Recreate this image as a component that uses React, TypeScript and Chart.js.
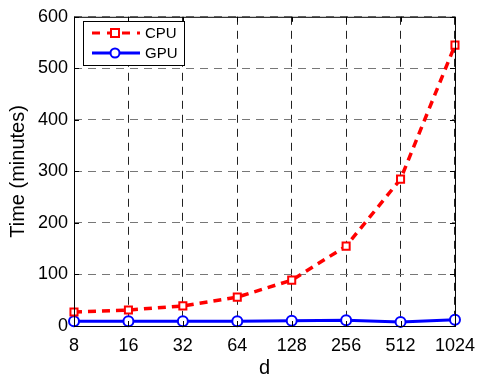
import React, { useEffect, useRef } from "react";
import { Chart, registerables } from "chart.js";

Chart.register(...registerables);

const categories = ["8", "16", "32", "64", "128", "256", "512", "1024"];
const cpuValues = [27, 31, 39, 56, 89, 155, 285, 545];
const gpuValues = [9, 9, 9, 9, 10, 11, 8, 12];
const yTicks = [0, 100, 200, 300, 400, 500, 600];
const seriesNames = ["CPU", "GPU"];

const FONT = "'Liberation Sans', Arial, Helvetica, sans-serif";

const framePlugin = {
  id: "frame",
  afterDraw(chart: any) {
    const { ctx, chartArea: a, scales } = chart;
    ctx.save();
    ctx.strokeStyle = "#000";
    ctx.lineWidth = 1;
    ctx.setLineDash([]);
    ctx.strokeRect(a.left + 0.5, a.top + 0.5, a.right - a.left, a.bottom - a.top);
    const tl = 5;
    ctx.beginPath();
    yTicks.forEach((v) => {
      const y = Math.round(scales.y.getPixelForValue(v)) + 0.5;
      ctx.moveTo(a.left, y);
      ctx.lineTo(a.left + tl, y);
      ctx.moveTo(a.right, y);
      ctx.lineTo(a.right - tl, y);
    });
    categories.forEach((_, i) => {
      const x = Math.round(scales.x.getPixelForValue(i)) + 0.5;
      ctx.moveTo(x, a.bottom);
      ctx.lineTo(x, a.bottom - tl);
      ctx.moveTo(x, a.top);
      ctx.lineTo(x, a.top + tl);
    });
    ctx.stroke();

    // legend
    const lx = 83, ly = 21, lw = 101, lh = 44;
    ctx.fillStyle = "#fff";
    ctx.fillRect(lx, ly, lw, lh);
    ctx.strokeStyle = "#000";
    ctx.lineWidth = 1;
    ctx.strokeRect(lx + 0.5, ly + 0.5, lw, lh);
    const rows = [ly + 12, ly + 32];
    ctx.strokeStyle = "#ff0000";
    ctx.lineWidth = 3;
    ctx.setLineDash([8, 7]);
    ctx.beginPath();
    ctx.moveTo(92, rows[0]);
    ctx.lineTo(140, rows[0]);
    ctx.stroke();
    ctx.setLineDash([]);
    ctx.fillStyle = "#fff";
    ctx.lineWidth = 2;
    ctx.fillRect(111, rows[0] - 4, 8, 8);
    ctx.strokeRect(111, rows[0] - 4, 8, 8);
    ctx.strokeStyle = "#0000ff";
    ctx.lineWidth = 3;
    ctx.beginPath();
    ctx.moveTo(92, rows[1]);
    ctx.lineTo(140, rows[1]);
    ctx.stroke();
    ctx.lineWidth = 2;
    ctx.beginPath();
    ctx.arc(115, rows[1], 4.5, 0, Math.PI * 2);
    ctx.fillStyle = "#fff";
    ctx.fill();
    ctx.stroke();
    ctx.fillStyle = "#000";
    ctx.font = `15px ${FONT}`;
    ctx.textBaseline = "middle";
    ctx.textAlign = "left";
    ctx.fillText(seriesNames[0], 145, rows[0] + 1);
    ctx.fillText(seriesNames[1], 145, rows[1] + 1);
    ctx.restore();
  },
};

export default function App() {
  const ref = useRef<HTMLCanvasElement>(null);
  useEffect(() => {
    document.body.style.margin = "0";
    const chart = new Chart(ref.current!, {
      type: "line",
      data: {
        labels: categories,
        datasets: [
          {
            label: seriesNames[0],
            data: cpuValues,
            borderColor: "#ff0000",
            borderWidth: 3.5,
            borderDash: [8, 6],
            tension: 0,
            pointStyle: "rect",
            pointRadius: 5,
            pointBorderWidth: 2,
            pointBackgroundColor: "#fff",
            pointBorderColor: "#ff0000",
            clip: false,
          } as any,
          {
            label: seriesNames[1],
            data: gpuValues,
            borderColor: "#0000ff",
            borderWidth: 3,
            tension: 0,
            pointStyle: "circle",
            pointRadius: 5,
            pointBorderWidth: 2,
            pointBackgroundColor: "#fff",
            pointBorderColor: "#0000ff",
            clip: false,
          } as any,
        ],
      },
      options: {
        animation: false,
        responsive: false,
        maintainAspectRatio: false,
        layout: { padding: { top: 13, right: 22, left: 0, bottom: 0 } },
        plugins: { legend: { display: false }, tooltip: { enabled: false } },
        scales: {
          x: {
            type: "category",
            offset: false,
            grid: { color: "#222", drawTicks: false } as any,
            border: { display: false, dash: [8, 6] },
            ticks: { color: "#000", font: { family: FONT, size: 18 }, padding: 9, maxRotation: 0, autoSkip: false },
            title: { display: true, text: "d", color: "#000", font: { family: FONT, size: 20 }, padding: { top: 0, bottom: -4 } },
            afterFit(s: any) { s.height = 50; },
          },
          y: {
            min: 0,
            max: 600,
            afterBuildTicks(s: any) { s.ticks = yTicks.map((v) => ({ value: v })); },
            grid: { color: "#777", drawTicks: false } as any,
            border: { display: false, dash: [8, 6] },
            ticks: { color: "#000", font: { family: FONT, size: 18 }, padding: 6 },
            title: { display: true, text: "Time (minutes)", color: "#000", font: { family: FONT, size: 20 }, padding: { top: 6, bottom: 0 } },
            afterFit(s: any) { s.width = 74; },
          },
        },
      },
      plugins: [framePlugin],
    });
    return () => chart.destroy();
  }, []);
  return <canvas ref={ref} width={484} height={376} style={{ display: "block" }} />;
}
